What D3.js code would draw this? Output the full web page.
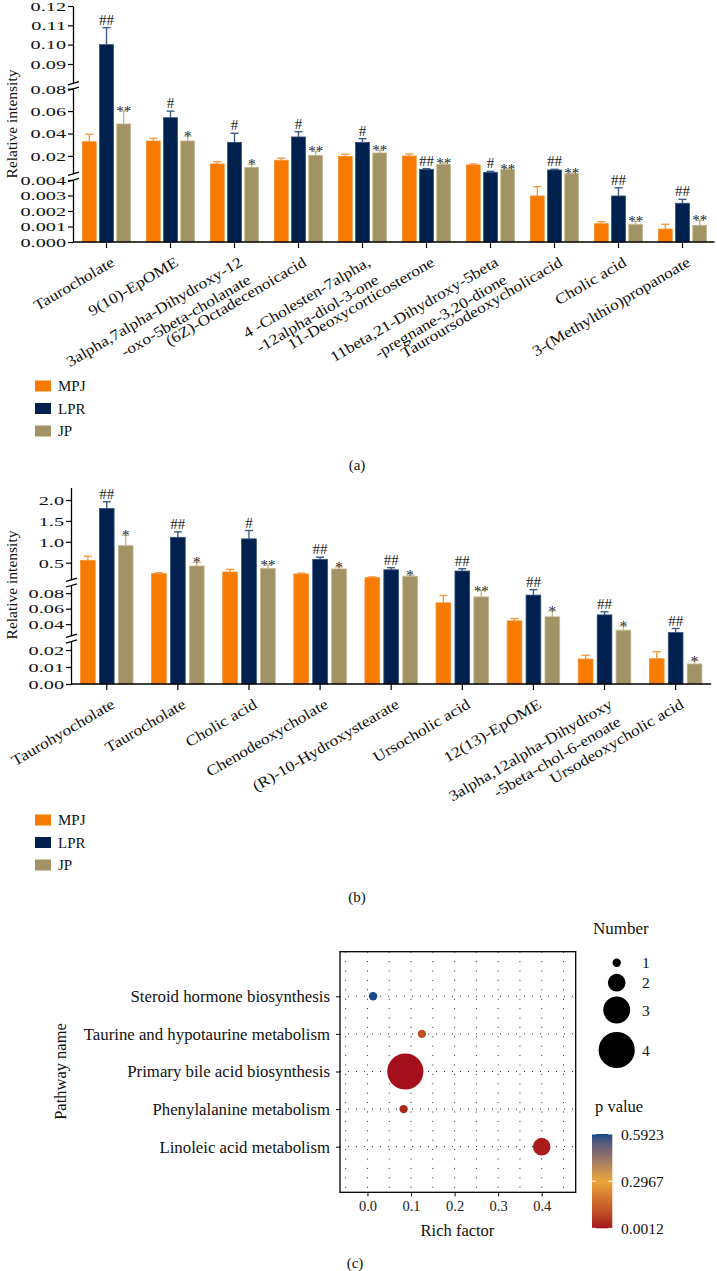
<!DOCTYPE html>
<html><head><meta charset="utf-8">
<script src="https://cdn.jsdelivr.net/npm/d3@7"></script>
<style>
body{margin:0;background:#fff;}
svg{display:block;font-family:"Liberation Serif","Times New Roman",serif;}
</style></head><body>
<svg id="chart" width="717" height="1271"></svg>
<script>
const FONT = '"Liberation Serif","Times New Roman",serif';
const series = ["MPJ","LPR","JP"];
const barColors = {MPJ:"#f77b00", LPR:"#00214e", JP:"#a19366"};
const edgeColors = {MPJ:"#f98f2e", LPR:"#34507a", JP:"#c3b68e"};
const errColors = {MPJ:"#f99b45", LPR:"#3f5c87", JP:"#c4b78f"};

// ---------- Panel (a) ----------
const categoriesA = ["Taurocholate","9(10)-EpOME","3alpha,7alpha-Dihydroxy-12\n-oxo-5beta-cholanate","(6Z)-Octadecenoicacid","4 -Cholesten-7alpha,\n-12alpha-diol-3-one","11-Deoxycorticosterone","11beta,21-Dihydroxy-5beta\n-pregnane-3,20-dione","Tauroursodeoxycholicacid","Cholic acid","3-(Methylthio)propanoate"];
const mpjA    = [0.0327, 0.0333, 0.0128, 0.0161, 0.0196, 0.0199, 0.0119, 0.00297, 0.00118, 0.00084];
const mpjErrA = [0.0066, 0.0024, 0.0020, 0.0018, 0.0018, 0.0018, 0.0009, 0.0006, 0.00013, 0.0003];
const lprA    = [0.100, 0.0541, 0.0321, 0.0369, 0.0321, 0.0080, 0.0053, 0.0074, 0.00297, 0.0025];
const lprErrA = [0.0088, 0.0059, 0.0081, 0.0047, 0.0033, 0.0006, 0.0009, 0.0006, 0.00053, 0.00025];
const jpA     = [0.0485, 0.0333, 0.0098, 0.0205, 0.0226, 0.0125, 0.0080, 0.0041, 0.00114, 0.00108];
const jpErrA  = [0.0115, 0.0045, 0.0027, 0.0036, 0.0024, 0.0011, 0.0006, 0.0006, 0.00019, 0.00032];
const lprSigA = ["##","#","#","#","#","##","#","##","##","##"];
const jpSigA  = ["**","*","*","**","**","**","**","**","**","**"];
const breaksA = [[0,0.004],[0.004,0.08],[0.08,0.12]];
const ticksA  = [[0,0.001,0.002,0.003,0.004],[0.02,0.04,0.06,0.08],[0.09,0.10,0.11,0.12]];
const formatsA = [".3f",".2f",".2f"];

// ---------- Panel (b) ----------
const categoriesB = ["Taurohyocholate","Taurocholate","Cholic acid","Chenodeoxycholate","(R)-10-Hydroxystearate","Ursocholic acid","12(13)-EpOME","3alpha,12alpha-Dihydroxy\n-5beta-chol-6-enoate","Ursodeoxycholic acid"];
const mpjB    = [0.557, 0.237, 0.276, 0.23, 0.141, 0.0675, 0.0443, 0.0147, 0.0149];
const mpjErrB = [0.096, 0.023, 0.064, 0.02, 0.019, 0.0095, 0.003, 0.0022, 0.0041];
const lprB    = [1.80, 1.108, 1.07, 0.58, 0.33, 0.30, 0.0775, 0.052, 0.0292];
const lprErrB = [0.16, 0.13, 0.20, 0.05, 0.05, 0.055, 0.007, 0.0039, 0.0052];
const jpB     = [0.907, 0.42, 0.366, 0.35, 0.175, 0.0752, 0.0495, 0.0322, 0.0118];
const jpErrB  = [0.25, 0.09, 0.074, 0.05, 0.025, 0.0082, 0.0075, 0.0055, 0.0019];
const lprSigB = ["##","##","#","##","##","##","##","##","##"];
const jpSigB  = ["*","*","**","*","*","**","*","*","*"];
const breaksB = [[0,0.025],[0.025,0.09],[0.09,2.3]];
const ticksB  = [[0,0.01,0.02],[0.04,0.06,0.08],[0.5,1.0,1.5,2.0]];
const formatsB = [".2f",".2f",".1f"];

// ---------- Panel (c) ----------
const pathways = ["Steroid hormone biosynthesis","Taurine and hypotaurine metabolism","Primary bile acid biosynthesis","Phenylalanine metabolism","Linoleic acid metabolism"];
const richFactor = [0.013, 0.125, 0.087, 0.083, 0.40];
const hitNumber  = [1, 1, 4, 1, 2];
const pValue     = [0.5923, 0.10, 0.0012, 0.03, 0.015];
const richTicks  = [0.0, 0.1, 0.2, 0.3, 0.4];
const sizeLegendValues = [1,2,3,4];
const pLegendValues = [0.0012, 0.2967, 0.5923];

const svg = d3.select("#chart");

function drawBarPanel(cfg){
  const g = svg.append("g");
  const segScales = cfg.breaks.map((d,i) => d3.scaleLinear().domain(d).range(cfg.segRanges[i]));
  const y = v => {
    for (let i=0;i<segScales.length;i++){ if (v <= cfg.breaks[i][1]) return segScales[i](v); }
    return segScales[segScales.length-1](v);
  };
  const y0 = segScales[0](0);
  const x0 = d3.scaleBand().domain(cfg.cats).range(cfg.xRange).paddingInner(cfg.padIn).paddingOuter(cfg.padOut);
  const x1 = d3.scaleBand().domain(series).range([0, x0.bandwidth()]).paddingInner(cfg.padSub);
  const rows = cfg.cats.map((c,i)=>({cat:c, items: series.map(s=>({s, v:cfg.vals[s][i], e:cfg.errs[s][i], sig:(cfg.sigs[s]||[])[i]||""}))}));
  const grp = g.selectAll("g.grp").data(rows).join("g").attr("class","grp")
    .attr("transform", d=>`translate(${x0(d.cat)},0)`);
  const items = grp.selectAll("g.it").data(d=>d.items).join("g").attr("class","it");
  const cx = d => x1(d.s)+x1.bandwidth()/2;
  items.append("line").attr("x1",cx).attr("x2",cx)
    .attr("y1",d=>y(d.v)).attr("y2",d=>y(d.v+d.e))
    .attr("stroke",d=>errColors[d.s]).attr("stroke-width",1.4);
  items.append("line").attr("x1",d=>cx(d)-4).attr("x2",d=>cx(d)+4)
    .attr("y1",d=>y(d.v+d.e)).attr("y2",d=>y(d.v+d.e))
    .attr("stroke",d=>errColors[d.s]).attr("stroke-width",1.4);
  items.append("rect").attr("x",d=>x1(d.s)+0.4).attr("width",x1.bandwidth()-0.8)
    .attr("y",d=>y(d.v)).attr("height",d=>y0-y(d.v))
    .attr("fill",d=>barColors[d.s]).attr("stroke",d=>edgeColors[d.s]).attr("stroke-width",0.8);
  items.filter(d=>d.sig).append("text").attr("x",cx)
    .attr("y",d=>y(d.v+d.e) + (d.sig[0]==="#" ? -3 : 5))
    .attr("text-anchor","middle").attr("font-size",15).attr("fill","#222").text(d=>d.sig);

  // y axis segments
  segScales.forEach((sc,i)=>{
    const ax = g.append("g").attr("transform",`translate(${cfg.axisX},0)`)
      .call(d3.axisLeft(sc).tickValues(cfg.ticks[i]).tickFormat(d3.format(cfg.fmts[i])).tickSize(5).tickSizeOuter(0));
    ax.attr("font-family",FONT).attr("font-size",13.5);
    ax.select(".domain").attr("stroke-width",1.3);
    ax.selectAll(".tick line").attr("stroke-width",1.2);
    ax.selectAll(".tick text").attr("fill","#111").attr("x",-7/1.5).attr("transform","scale(1.5,1)");
  });
  for (let i=0;i<segScales.length-1;i++){
    [cfg.segRanges[i][1], cfg.segRanges[i+1][0]].forEach(yy=>{
      g.append("line").attr("x1",cfg.axisX-5).attr("x2",cfg.axisX+6)
        .attr("y1",yy+1.6).attr("y2",yy-1.6).attr("stroke","#000").attr("stroke-width",1.2);
    });
  }
  // x axis
  const xa = g.append("g").attr("transform",`translate(0,${y0})`)
    .call(d3.axisBottom(x0).tickSize(6).tickSizeOuter(0).tickFormat(""));
  xa.select(".domain").attr("d",`M${cfg.axisX},0H${cfg.xRange[1]}`).attr("stroke-width",1.3);
  xa.selectAll(".tick line").attr("stroke-width",1.2);
  cfg.cats.forEach(c=>{
    const tx = x0(c)+x0.bandwidth()/2;
    c.split("\n").forEach((ln,i)=>{
      g.append("text").attr("transform",`translate(${tx+9+8.5*i},${y0+23+17.5*i}) rotate(-30.5) scale(1.16,1)`)
        .attr("text-anchor","end").attr("font-size",15).attr("fill","#111").text(ln);
    });
  });
  // y title
  g.append("text").attr("transform",`translate(16.5,${cfg.titleY}) rotate(-90)`)
    .attr("text-anchor","middle").attr("font-size",15.5).attr("fill","#111").text("Relative intensity");
  // legend
  series.forEach((s,i)=>{
    const yy = cfg.legendY + i*cfg.legendStep;
    g.append("rect").attr("x",35).attr("y",yy-5.5).attr("width",16).attr("height",11).attr("fill",barColors[s]);
    g.append("text").attr("x",58).attr("y",yy+5).attr("font-size",15).attr("fill","#111").text(s);
  });
  g.append("text").attr("x",357).attr("y",cfg.panelLabelY).attr("text-anchor","middle").attr("font-size",15).attr("fill","#111").text(cfg.panelLabel);
}

drawBarPanel({
  cats: categoriesA, vals:{MPJ:mpjA, LPR:lprA, JP:jpA}, errs:{MPJ:mpjErrA, LPR:lprErrA, JP:jpErrA},
  sigs:{LPR:lprSigA, JP:jpSigA}, breaks:breaksA, segRanges:[[242,180],[173.8,88.7],[83.3,6]],
  ticks:ticksA, fmts:formatsA, xRange:[74.5,714.5], padIn:0.234, padOut:0.117, padSub:0.15,
  axisX:73, titleY:124, legendY:386, legendStep:22.5, panelLabel:"(a)", panelLabelY:470
});
drawBarPanel({
  cats: categoriesB, vals:{MPJ:mpjB, LPR:lprB, JP:jpB}, errs:{MPJ:mpjErrB, LPR:lprErrB, JP:jpErrB},
  sigs:{LPR:lprSigB, JP:jpSigB}, breaks:breaksB, segRanges:[[684,641.5],[635.8,585.4],[579.8,487.5]],
  ticks:ticksB, fmts:formatsB, xRange:[71.2,711.2], padIn:0.25, padOut:0.125, padSub:0.18,
  axisX:71, titleY:585, legendY:820, legendStep:22.5, panelLabel:"(b)", panelLabelY:902
});

// ---------- Panel (c) drawing ----------
(function(){
  const g = svg.append("g");
  const L=340, R=575.7, T=951.7, B=1192.3;
  const x = d3.scaleLinear().domain([-0.063,0.478]).range([L,R]);
  const y = d3.scalePoint().domain(pathways).range([996.3,1146.7]);
  const color = d3.scaleLinear().domain(pLegendValues).range(["#a50f1c","#eca53a","#134a87"]).interpolate(d3.interpolateLab);
  const rad = d3.scaleLinear().domain([1,4]).range([4.2,18.1]);
  const gridX = d3.range(-0.05,0.46,0.05);
  g.selectAll("line.gx").data(gridX).join("line").attr("x1",d=>x(d)).attr("x2",d=>x(d)).attr("y1",T).attr("y2",B)
    .attr("stroke","#222").attr("stroke-width",1).attr("stroke-dasharray","1,8.4");
  g.selectAll("line.gy").data(pathways).join("line").attr("x1",L).attr("x2",R).attr("y1",d=>y(d)).attr("y2",d=>y(d))
    .attr("stroke","#222").attr("stroke-width",1).attr("stroke-dasharray","1,7");
  const pts = pathways.map((p,i)=>({p, rf:richFactor[i], n:hitNumber[i], pv:pValue[i]})).sort((a,b)=>b.n-a.n);
  g.selectAll("circle.pt").data(pts).join("circle").attr("cx",d=>x(d.rf)).attr("cy",d=>y(d.p)).attr("r",d=>rad(d.n)).attr("fill",d=>color(d.pv));
  g.append("rect").attr("x",L).attr("y",T).attr("width",R-L).attr("height",B-T).attr("fill","none").attr("stroke","#000").attr("stroke-width",1.3);
  const xa = g.append("g").attr("transform",`translate(0,${B})`).call(d3.axisBottom(x).tickValues(richTicks).tickFormat(d3.format(".1f")).tickSize(4).tickSizeOuter(0));
  xa.select(".domain").remove();
  xa.attr("font-family",FONT).attr("font-size",14.5);
  xa.selectAll(".tick text").attr("fill","#222").attr("y",8);
  const ya = g.append("g").attr("transform",`translate(${L},0)`).call(d3.axisLeft(y).tickSize(4).tickSizeOuter(0));
  ya.select(".domain").remove();
  ya.attr("font-family",FONT).attr("font-size",16.8);
  ya.selectAll(".tick text").attr("fill","#111").attr("x",-10);
  g.append("text").attr("x",457.5).attr("y",1236).attr("text-anchor","middle").attr("font-size",16.5).attr("fill","#111").text("Rich factor");
  g.append("text").attr("transform",`translate(66,1071.5) rotate(-90)`).attr("text-anchor","middle").attr("font-size",16.5).attr("fill","#111").text("Pathway name");
  g.append("text").attr("x",593).attr("y",934).attr("font-size",17).attr("fill","#111").text("Number");
  const sizeY = d3.scaleOrdinal().domain(sizeLegendValues).range([962.7,982.7,1010,1050]);
  g.selectAll("circle.sl").data(sizeLegendValues).join("circle").attr("cx",616.7).attr("cy",d=>sizeY(d)).attr("r",d=>rad(d)).attr("fill","#000");
  g.selectAll("text.sl").data(sizeLegendValues).join("text").attr("x",642).attr("y",d=>sizeY(d)+5.5).attr("font-size",15.5).attr("fill","#111").text(d=>d);
  g.append("text").attr("x",595).attr("y",1112).attr("font-size",16.5).attr("fill","#111").text("p value");
  const cbY = d3.scaleLinear().domain([pLegendValues[0], pLegendValues[2]]).range([1228.3,1134]);
  const defs = svg.append("defs");
  const grad = defs.append("linearGradient").attr("id","pgrad").attr("x1",0).attr("x2",0).attr("y1",1).attr("y2",0);
  d3.range(0,1.0001,0.05).forEach(t=>{
    const v = pLegendValues[0] + t*(pLegendValues[2]-pLegendValues[0]);
    grad.append("stop").attr("offset",t).attr("stop-color",color(v));
  });
  g.append("rect").attr("x",592).attr("y",1134).attr("width",20.3).attr("height",94.3).attr("fill","url(#pgrad)");
  pLegendValues.forEach(v=>{
    g.append("line").attr("x1",592).attr("x2",596).attr("y1",cbY(v)).attr("y2",cbY(v)).attr("stroke","#fff").attr("stroke-width",1);
    g.append("line").attr("x1",608.3).attr("x2",612.3).attr("y1",cbY(v)).attr("y2",cbY(v)).attr("stroke","#fff").attr("stroke-width",1);
    g.append("text").attr("x",621).attr("y",cbY(v)+5.5).attr("font-size",15.5).attr("fill","#111").text(d3.format(".4f")(v));
  });
  g.append("text").attr("x",355).attr("y",1268).attr("text-anchor","middle").attr("font-size",15).attr("fill","#111").text("(c)");
})();
</script>
</body></html>
